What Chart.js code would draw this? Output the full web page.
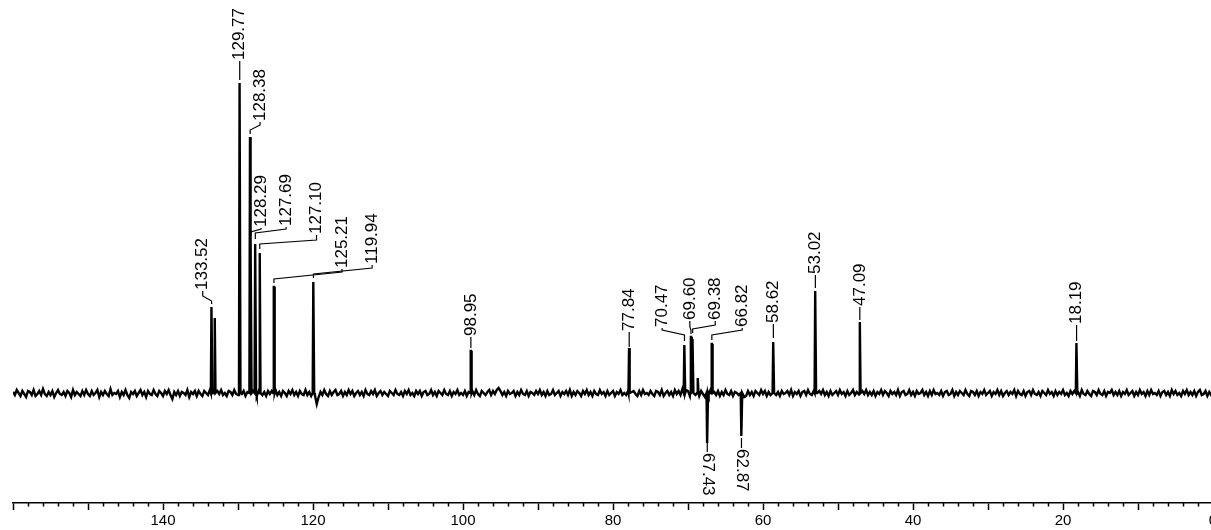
<!DOCTYPE html>
<html>
<head>
<meta charset="utf-8">
<script src="https://cdn.jsdelivr.net/npm/chart.js@4/dist/chart.umd.min.js"></script>
<style>
  html, body { margin: 0; padding: 0; background: #fff; overflow: hidden; }
  canvas { display: block; }
</style>
</head>
<body>
<canvas id="c" width="1213" height="530"></canvas>
<script>
// ---- Data (chemical shift in ppm, intensity in arbitrary units) ----
const peakShifts = [133.52, 133.10, 129.77, 128.38, 128.29, 127.69, 127.10, 125.21, 119.94, 98.95, 77.84, 70.47, 69.60, 69.38, 68.70, 67.43, 66.82, 62.87, 58.62, 53.02, 47.09, 18.19];
const peakHeights = [86, 75, 310, 256, 153, 149, 140, 106, 111, 42, 45, 48, 56, 54, 15, -50, 49, -43, 51, 102, 71, 50];

// Baseline noise, read every 0.25 ppm from 160 ppm down to 0 ppm
const noiseStart = 160;
const noiseStep = 0.25;
const noise = [
  1,-2,3,0,-3,2,-1,-4,2,1,-2,3,-3,-1,2,-2,4,-1,-3,1,
  -2,2,-4,0,3,-1,-2,1,-3,2,0,-4,3,-2,1,-1,-3,2,-2,3,
  -1,-3,2,-2,0,3,-4,1,-2,2,-1,-3,4,-2,0,-1,2,-4,1,-2,
  3,-2,-5,1,-1,2,-3,0,3,-2,1,-4,2,-1,-2,3,-1,-3,2,0,
  -3,2,-1,3,-2,-6,1,-2,2,-3,1,0,-2,3,-4,1,-1,2,-3,2,
  -1,-3,2,0,-2,3,-3,1,-2,2,-1,3,-2,0,-3,2,1,-2,3,-1,
  -2,3,-1,2,-3,1,-2,-4,2,-1,-3,2,0,-2,1,-3,2,-1,2,-2,
  3,-2,1,-3,2,0,-3,2,-1,3,-2,1,-3,2,-1,-2,3,-2,1,-3,
  2,-2,-11,-4,1,-2,3,-1,-3,2,-2,1,3,-2,-1,2,-3,1,-2,3,
  -1,2,-3,0,2,-2,1,-3,3,-1,-2,2,-1,3,-3,0,2,-2,1,-1,
  -3,2,0,-2,3,-1,-2,1,-3,2,-1,3,-2,0,-3,2,-1,2,-3,1,
  2,-2,-1,3,-2,1,-3,2,0,-2,3,-1,-2,2,-3,1,-1,3,-2,0,
  -2,2,-3,1,-1,2,-2,3,-1,-3,2,0,-2,1,3,-2,2,-1,3,5,
  2,-2,1,-3,2,-1,0,2,-3,1,-2,3,-1,-2,2,-3,1,0,-2,2,
  -1,3,-2,1,-3,2,-2,-1,3,-2,0,2,-3,1,-1,2,-2,3,-3,1,
  -2,2,0,-3,2,-1,3,-2,1,-3,2,-1,-2,3,-1,1,-3,2,-2,0,
  2,-3,1,-1,3,-2,0,-2,2,-3,1,2,-1,-3,2,-2,3,-1,0,-2,
  2,-1,-3,2,1,-2,3,-3,0,2,-2,1,-3,3,-1,2,-2,4,1,3,
  2,-3,1,4,-2,3,-3,2,-1,-4,2,-2,3,-3,1,-2,2,-3,1,-2,
  3,-1,-2,2,-3,1,0,-2,2,-1,-4,-3,2,-2,1,-3,2,0,-2,3,
  -1,2,-3,1,-2,2,3,-2,1,-3,2,-1,0,2,-2,3,-3,1,-1,2,
  -3,1,2,-2,3,-1,-2,2,-3,0,2,-1,3,-2,1,-3,2,-2,0,2,
  -2,3,-1,1,-3,2,-2,0,3,-2,1,-1,-3,2,-1,3,-2,1,-2,2,
  -3,1,-1,3,-2,2,0,-3,2,-1,1,-2,3,-3,1,2,-2,-1,3,-2,
  1,-3,2,-1,0,3,-2,1,-3,2,-2,3,-1,0,-2,2,-3,1,2,-2,
  -1,3,-3,1,-2,2,0,-2,3,-1,-3,2,1,-2,2,-3,1,-1,3,-2,
  0,2,-3,1,-1,3,-2,2,-3,0,2,-2,1,-1,3,-3,2,-1,-2,2,
  -3,1,2,-2,3,-1,-2,1,-3,2,0,-2,3,-1,1,-3,2,-2,1,-1,
  3,-2,0,-3,2,-1,2,-2,1,-3,3,-1,-2,2,-1,-3,2,1,-2,3,
  -1,-2,2,-3,1,0,3,-2,1,-2,2,-3,1,-1,3,-2,0,2,-3,1,
  -2,3,-1,1,-3,2,-2,3,-1,0,-2,2,-3,1,2,-2,1,-3,3,-1,
  2,-2,0,-3,2,-1,3,-2,1,-2,2,-3,1,3,-2,-1,2,-3,1,-2,
  1
];

// Peak labels (values written on the chart)
const labeledShifts = [133.52, 129.77, 128.38, 128.29, 127.69, 127.10, 125.21, 119.94, 98.95, 77.84, 70.47, 69.60, 69.38, 67.43, 66.82, 62.87, 58.62, 53.02, 47.09, 18.19];

// Axis tick values
const axisMin = 0, axisMax = 160, minorStep = 2, majorStep = 10, labelStep = 20;

// ---- Label layout (not data): label x in ppm, connector levels in intensity units ----
const labelAt    = [134.70, 129.77, 127.06, 126.93, 123.59, 119.53, 116.13, 112.12, 98.95, 77.84, 73.45, 69.75, 66.37, 67.43, 62.77, 62.87, 58.62, 53.02, 47.09, 18.19];
const lineStart  = [89, 313, 259, 157, 154, 144, 110, 115, 45, 46, 52, 59, 60, -50, 53, -45, 55, 105, 73, 52];
const kneePeak   = [92, 320, 263, 161, 160, 149, 114, 119, 50, 52, 58, 63, 64, -55, 58, -50, 60, 110, 78, 58];
const kneeLabel  = [97, 325, 268, 164, 164, 153, 121, 125, 52, 55, 63, 66, 68, -57, 63, -52, 63, 113, 81, 60];
const textStart  = [103, 333, 272, 166, 167, 159, 125, 129, 57, 62, 66, 73, 73, -60, 66, -56, 70, 119, 87, 69];

// ---- Build the line from the arrays ----
const pts = [];
noise.forEach((v, i) => {
  const ppm = noiseStart - i * noiseStep;
  if (peakShifts.some(p => Math.abs(p - ppm) < 0.15)) return;
  pts.push({x: ppm, y: v});
});
peakShifts.forEach((p, i) => {
  pts.push({x: p + 0.1, y: 0});
  pts.push({x: p + 0.02, y: peakHeights[i]});
  pts.push({x: p - 0.02, y: peakHeights[i]});
  pts.push({x: p - 0.1, y: 0});
});
pts.sort((a, b) => b.x - a.x);

const FONT = '"Liberation Sans", Arial, Helvetica, sans-serif';

const decorations = {
  id: 'decorations',
  afterDraw(chart) {
    const {ctx, scales: {x, y}} = chart;
    ctx.save();
    // minor ticks
    ctx.strokeStyle = '#000';
    ctx.lineWidth = 1.5;
    const axisY = x.top;
    for (let v = axisMin; v <= axisMax; v += minorStep) {
      if (v % majorStep === 0) continue;
      const px = Math.round(x.getPixelForValue(v)) + 0.5;
      ctx.beginPath(); ctx.moveTo(px, axisY); ctx.lineTo(px, axisY + 3.5); ctx.stroke();
    }
    // peak labels
    ctx.lineWidth = 1.2;
    ctx.fillStyle = '#000';
    ctx.font = '17px ' + FONT;
    labeledShifts.forEach((s, i) => {
      const px = x.getPixelForValue(s);
      const lx = x.getPixelForValue(labelAt[i]);
      const y0 = y.getPixelForValue(lineStart[i]);
      const y1 = y.getPixelForValue(kneePeak[i]);
      const y2 = y.getPixelForValue(kneeLabel[i]);
      const up = textStart[i] > 0;
      const yt = y.getPixelForValue(textStart[i]);
      ctx.beginPath();
      ctx.moveTo(px, y0);
      ctx.lineTo(px, y1);
      ctx.lineTo(lx, y2);
      ctx.lineTo(lx, yt + (up ? 1 : -1));
      ctx.stroke();
      ctx.save();
      ctx.translate(lx, yt);
      ctx.rotate(up ? -Math.PI / 2 : Math.PI / 2);
      ctx.textAlign = 'left';
      ctx.textBaseline = 'middle';
      ctx.fillText(s.toFixed(2), 0, 0);
      ctx.restore();
    });
    ctx.restore();
  }
};

new Chart(document.getElementById('c'), {
  type: 'line',
  data: {
    datasets: [{
      data: pts,
      borderColor: '#000',
      borderWidth: 2.4,
      pointRadius: 0,
      tension: 0,
      fill: false
    }]
  },
  options: {
    responsive: false,
    animation: false,
    events: [],
    layout: { padding: { left: 13, right: 0, top: 0, bottom: 0 } },
    plugins: { legend: { display: false }, tooltip: { enabled: false } },
    scales: {
      x: {
        type: 'linear',
        reverse: true,
        min: axisMin,
        max: axisMax,
        afterFit(scale) { scale.height = 27; scale.paddingLeft = 0; scale.paddingRight = 0; },
        border: { display: true, color: '#000', width: 1.5 },
        grid: {
          display: true,
          drawOnChartArea: false,
          drawTicks: true,
          tickLength: 7,
          tickWidth: 1.5,
          tickColor: (c) => (c.tick && c.tick.value % majorStep === 0) ? '#000' : 'rgba(0,0,0,0)'
        },
        ticks: {
          stepSize: minorStep,
          autoSkip: false,
          maxRotation: 0,
          minRotation: 0,
          padding: 2,
          color: '#000',
          font: { family: FONT, size: 15 },
          callback: (v) => (v % labelStep === 0 && v < axisMax) ? String(v) : ''
        }
      },
      y: {
        display: false,
        min: -110,
        max: 393
      }
    }
  },
  plugins: [decorations]
});
</script>
</body>
</html>
